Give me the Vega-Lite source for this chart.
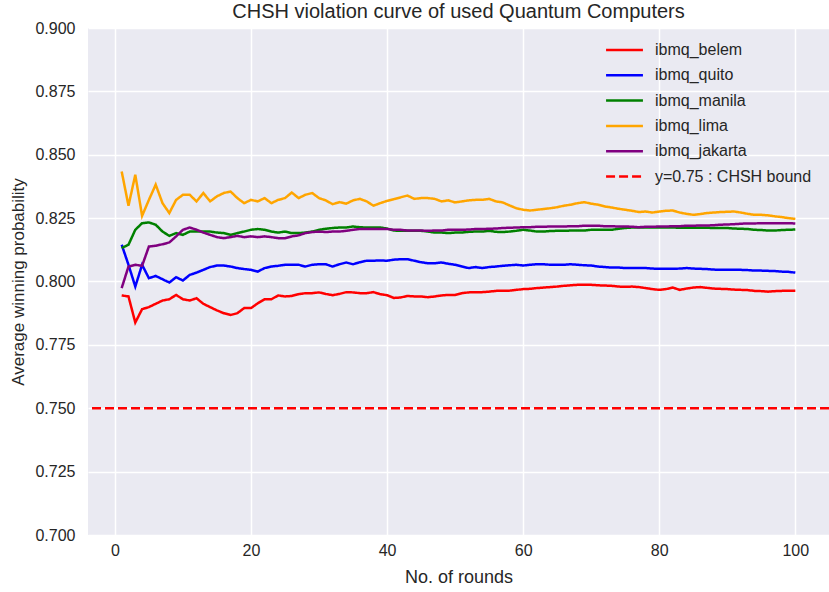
{
  "$schema": "https://vega.github.io/schema/vega-lite/v6.json",
  "width": 741,
  "height": 507,
  "autosize": {"type": "none"},
  "padding": {"left": 88, "top": 28, "right": 0, "bottom": 57},
  "background": "white",
  "title": {"text": "CHSH violation curve of used Quantum Computers", "fontSize": 20, "font": "Liberation Sans", "fontWeight": "normal", "color": "#262626", "frame": "group", "offset": -2},
  "datasets": {
    "runs": [
      {"round":1,"ibmq_belem":0.7945,"ibmq_quito":0.8145,"ibmq_manila":0.8132,"ibmq_lima":0.8434,"ibmq_jakarta":0.7974},
      {"round":2,"ibmq_belem":0.7941,"ibmq_quito":0.8066,"ibmq_manila":0.8145,"ibmq_lima":0.8299,"ibmq_jakarta":0.8059},
      {"round":3,"ibmq_belem":0.7838,"ibmq_quito":0.798,"ibmq_manila":0.8204,"ibmq_lima":0.8421,"ibmq_jakarta":0.8066},
      {"round":4,"ibmq_belem":0.7891,"ibmq_quito":0.8066,"ibmq_manila":0.823,"ibmq_lima":0.8259,"ibmq_jakarta":0.8062},
      {"round":5,"ibmq_belem":0.7899,"ibmq_quito":0.8013,"ibmq_manila":0.8233,"ibmq_lima":0.8322,"ibmq_jakarta":0.8138},
      {"round":6,"ibmq_belem":0.7912,"ibmq_quito":0.8022,"ibmq_manila":0.8224,"ibmq_lima":0.8382,"ibmq_jakarta":0.8141},
      {"round":7,"ibmq_belem":0.7925,"ibmq_quito":0.8009,"ibmq_manila":0.8197,"ibmq_lima":0.8309,"ibmq_jakarta":0.8147},
      {"round":8,"ibmq_belem":0.793,"ibmq_quito":0.7996,"ibmq_manila":0.818,"ibmq_lima":0.827,"ibmq_jakarta":0.8154},
      {"round":9,"ibmq_belem":0.7947,"ibmq_quito":0.8017,"ibmq_manila":0.8191,"ibmq_lima":0.8322,"ibmq_jakarta":0.8178},
      {"round":10,"ibmq_belem":0.793,"ibmq_quito":0.8004,"ibmq_manila":0.8184,"ibmq_lima":0.8342,"ibmq_jakarta":0.8204},
      {"round":11,"ibmq_belem":0.7925,"ibmq_quito":0.8026,"ibmq_manila":0.8197,"ibmq_lima":0.8342,"ibmq_jakarta":0.8213},
      {"round":12,"ibmq_belem":0.7934,"ibmq_quito":0.8035,"ibmq_manila":0.8197,"ibmq_lima":0.8316,"ibmq_jakarta":0.8204},
      {"round":13,"ibmq_belem":0.7912,"ibmq_quito":0.8046,"ibmq_manila":0.8197,"ibmq_lima":0.8349,"ibmq_jakarta":0.8193},
      {"round":14,"ibmq_belem":0.7899,"ibmq_quito":0.8057,"ibmq_manila":0.8197,"ibmq_lima":0.8316,"ibmq_jakarta":0.8184},
      {"round":15,"ibmq_belem":0.7886,"ibmq_quito":0.8063,"ibmq_manila":0.8193,"ibmq_lima":0.8336,"ibmq_jakarta":0.8175},
      {"round":16,"ibmq_belem":0.7875,"ibmq_quito":0.8063,"ibmq_manila":0.8191,"ibmq_lima":0.8349,"ibmq_jakarta":0.8171},
      {"round":17,"ibmq_belem":0.7868,"ibmq_quito":0.8059,"ibmq_manila":0.8184,"ibmq_lima":0.8355,"ibmq_jakarta":0.8175},
      {"round":18,"ibmq_belem":0.7875,"ibmq_quito":0.8053,"ibmq_manila":0.8191,"ibmq_lima":0.8329,"ibmq_jakarta":0.818},
      {"round":19,"ibmq_belem":0.7895,"ibmq_quito":0.8049,"ibmq_manila":0.8197,"ibmq_lima":0.8309,"ibmq_jakarta":0.8175},
      {"round":20,"ibmq_belem":0.7895,"ibmq_quito":0.8046,"ibmq_manila":0.8204,"ibmq_lima":0.8322,"ibmq_jakarta":0.8178},
      {"round":21,"ibmq_belem":0.7914,"ibmq_quito":0.8039,"ibmq_manila":0.8207,"ibmq_lima":0.8316,"ibmq_jakarta":0.8175},
      {"round":22,"ibmq_belem":0.793,"ibmq_quito":0.8053,"ibmq_manila":0.8204,"ibmq_lima":0.8329,"ibmq_jakarta":0.8178},
      {"round":23,"ibmq_belem":0.793,"ibmq_quito":0.8059,"ibmq_manila":0.8197,"ibmq_lima":0.8309,"ibmq_jakarta":0.8175},
      {"round":24,"ibmq_belem":0.7945,"ibmq_quito":0.8062,"ibmq_manila":0.8193,"ibmq_lima":0.8322,"ibmq_jakarta":0.8171},
      {"round":25,"ibmq_belem":0.7941,"ibmq_quito":0.8066,"ibmq_manila":0.8197,"ibmq_lima":0.8329,"ibmq_jakarta":0.8171},
      {"round":26,"ibmq_belem":0.7943,"ibmq_quito":0.8066,"ibmq_manila":0.8191,"ibmq_lima":0.8351,"ibmq_jakarta":0.8178},
      {"round":27,"ibmq_belem":0.795,"ibmq_quito":0.8066,"ibmq_manila":0.8191,"ibmq_lima":0.8329,"ibmq_jakarta":0.8182},
      {"round":28,"ibmq_belem":0.7954,"ibmq_quito":0.8059,"ibmq_manila":0.8193,"ibmq_lima":0.8342,"ibmq_jakarta":0.8191},
      {"round":29,"ibmq_belem":0.7954,"ibmq_quito":0.8066,"ibmq_manila":0.8197,"ibmq_lima":0.8349,"ibmq_jakarta":0.8195},
      {"round":30,"ibmq_belem":0.7957,"ibmq_quito":0.8068,"ibmq_manila":0.8204,"ibmq_lima":0.8329,"ibmq_jakarta":0.8197},
      {"round":31,"ibmq_belem":0.7951,"ibmq_quito":0.8068,"ibmq_manila":0.8208,"ibmq_lima":0.832,"ibmq_jakarta":0.8195},
      {"round":32,"ibmq_belem":0.7946,"ibmq_quito":0.8059,"ibmq_manila":0.8211,"ibmq_lima":0.8305,"ibmq_jakarta":0.8197},
      {"round":33,"ibmq_belem":0.7951,"ibmq_quito":0.8068,"ibmq_manila":0.8213,"ibmq_lima":0.8313,"ibmq_jakarta":0.8197},
      {"round":34,"ibmq_belem":0.7958,"ibmq_quito":0.8075,"ibmq_manila":0.8213,"ibmq_lima":0.8307,"ibmq_jakarta":0.82},
      {"round":35,"ibmq_belem":0.7957,"ibmq_quito":0.8068,"ibmq_manila":0.8217,"ibmq_lima":0.832,"ibmq_jakarta":0.8204},
      {"round":36,"ibmq_belem":0.7954,"ibmq_quito":0.8076,"ibmq_manila":0.8214,"ibmq_lima":0.8326,"ibmq_jakarta":0.8207},
      {"round":37,"ibmq_belem":0.7954,"ibmq_quito":0.8082,"ibmq_manila":0.8213,"ibmq_lima":0.8316,"ibmq_jakarta":0.8207},
      {"round":38,"ibmq_belem":0.7958,"ibmq_quito":0.8082,"ibmq_manila":0.8213,"ibmq_lima":0.8299,"ibmq_jakarta":0.8207},
      {"round":39,"ibmq_belem":0.795,"ibmq_quito":0.8083,"ibmq_manila":0.8213,"ibmq_lima":0.8309,"ibmq_jakarta":0.8207},
      {"round":40,"ibmq_belem":0.7946,"ibmq_quito":0.8082,"ibmq_manila":0.8209,"ibmq_lima":0.8318,"ibmq_jakarta":0.8207},
      {"round":41,"ibmq_belem":0.7935,"ibmq_quito":0.8086,"ibmq_manila":0.8201,"ibmq_lima":0.8325,"ibmq_jakarta":0.8204},
      {"round":42,"ibmq_belem":0.7937,"ibmq_quito":0.8088,"ibmq_manila":0.82,"ibmq_lima":0.8332,"ibmq_jakarta":0.8204},
      {"round":43,"ibmq_belem":0.7943,"ibmq_quito":0.8088,"ibmq_manila":0.82,"ibmq_lima":0.8339,"ibmq_jakarta":0.8201},
      {"round":44,"ibmq_belem":0.7941,"ibmq_quito":0.8082,"ibmq_manila":0.82,"ibmq_lima":0.8326,"ibmq_jakarta":0.8201},
      {"round":45,"ibmq_belem":0.7941,"ibmq_quito":0.8076,"ibmq_manila":0.82,"ibmq_lima":0.8329,"ibmq_jakarta":0.8201},
      {"round":46,"ibmq_belem":0.7938,"ibmq_quito":0.8072,"ibmq_manila":0.8197,"ibmq_lima":0.8329,"ibmq_jakarta":0.82},
      {"round":47,"ibmq_belem":0.7941,"ibmq_quito":0.8072,"ibmq_manila":0.8193,"ibmq_lima":0.8326,"ibmq_jakarta":0.8201},
      {"round":48,"ibmq_belem":0.7945,"ibmq_quito":0.8075,"ibmq_manila":0.8193,"ibmq_lima":0.8316,"ibmq_jakarta":0.8201},
      {"round":49,"ibmq_belem":0.7947,"ibmq_quito":0.807,"ibmq_manila":0.8191,"ibmq_lima":0.832,"ibmq_jakarta":0.8204},
      {"round":50,"ibmq_belem":0.7947,"ibmq_quito":0.8066,"ibmq_manila":0.8193,"ibmq_lima":0.8312,"ibmq_jakarta":0.8204},
      {"round":51,"ibmq_belem":0.7954,"ibmq_quito":0.8059,"ibmq_manila":0.8193,"ibmq_lima":0.8316,"ibmq_jakarta":0.8204},
      {"round":52,"ibmq_belem":0.7957,"ibmq_quito":0.8053,"ibmq_manila":0.8196,"ibmq_lima":0.832,"ibmq_jakarta":0.8205},
      {"round":53,"ibmq_belem":0.7958,"ibmq_quito":0.8057,"ibmq_manila":0.8197,"ibmq_lima":0.8322,"ibmq_jakarta":0.8207},
      {"round":54,"ibmq_belem":0.7958,"ibmq_quito":0.8053,"ibmq_manila":0.8197,"ibmq_lima":0.8322,"ibmq_jakarta":0.8207},
      {"round":55,"ibmq_belem":0.796,"ibmq_quito":0.8057,"ibmq_manila":0.82,"ibmq_lima":0.8326,"ibmq_jakarta":0.8208},
      {"round":56,"ibmq_belem":0.7963,"ibmq_quito":0.8059,"ibmq_manila":0.8196,"ibmq_lima":0.8316,"ibmq_jakarta":0.8209},
      {"round":57,"ibmq_belem":0.7964,"ibmq_quito":0.8062,"ibmq_manila":0.8195,"ibmq_lima":0.8312,"ibmq_jakarta":0.8211},
      {"round":58,"ibmq_belem":0.7964,"ibmq_quito":0.8064,"ibmq_manila":0.8197,"ibmq_lima":0.83,"ibmq_jakarta":0.8212},
      {"round":59,"ibmq_belem":0.7967,"ibmq_quito":0.8066,"ibmq_manila":0.82,"ibmq_lima":0.8289,"ibmq_jakarta":0.8213},
      {"round":60,"ibmq_belem":0.797,"ibmq_quito":0.8063,"ibmq_manila":0.8204,"ibmq_lima":0.8283,"ibmq_jakarta":0.8214},
      {"round":61,"ibmq_belem":0.7971,"ibmq_quito":0.8066,"ibmq_manila":0.8201,"ibmq_lima":0.828,"ibmq_jakarta":0.8214},
      {"round":62,"ibmq_belem":0.7974,"ibmq_quito":0.8068,"ibmq_manila":0.8197,"ibmq_lima":0.8283,"ibmq_jakarta":0.8216},
      {"round":63,"ibmq_belem":0.7976,"ibmq_quito":0.8068,"ibmq_manila":0.8197,"ibmq_lima":0.8286,"ibmq_jakarta":0.8216},
      {"round":64,"ibmq_belem":0.7978,"ibmq_quito":0.8066,"ibmq_manila":0.8199,"ibmq_lima":0.8289,"ibmq_jakarta":0.8217},
      {"round":65,"ibmq_belem":0.798,"ibmq_quito":0.8066,"ibmq_manila":0.82,"ibmq_lima":0.8293,"ibmq_jakarta":0.8217},
      {"round":66,"ibmq_belem":0.7983,"ibmq_quito":0.8066,"ibmq_manila":0.82,"ibmq_lima":0.8299,"ibmq_jakarta":0.8217},
      {"round":67,"ibmq_belem":0.7985,"ibmq_quito":0.8068,"ibmq_manila":0.8201,"ibmq_lima":0.8303,"ibmq_jakarta":0.8218},
      {"round":68,"ibmq_belem":0.7987,"ibmq_quito":0.8066,"ibmq_manila":0.8201,"ibmq_lima":0.8309,"ibmq_jakarta":0.8218},
      {"round":69,"ibmq_belem":0.7987,"ibmq_quito":0.8064,"ibmq_manila":0.8201,"ibmq_lima":0.8313,"ibmq_jakarta":0.822},
      {"round":70,"ibmq_belem":0.7987,"ibmq_quito":0.8063,"ibmq_manila":0.8204,"ibmq_lima":0.8307,"ibmq_jakarta":0.822},
      {"round":71,"ibmq_belem":0.7985,"ibmq_quito":0.8059,"ibmq_manila":0.8204,"ibmq_lima":0.8303,"ibmq_jakarta":0.822},
      {"round":72,"ibmq_belem":0.7984,"ibmq_quito":0.8057,"ibmq_manila":0.8204,"ibmq_lima":0.8296,"ibmq_jakarta":0.8218},
      {"round":73,"ibmq_belem":0.7983,"ibmq_quito":0.8055,"ibmq_manila":0.8204,"ibmq_lima":0.8292,"ibmq_jakarta":0.8218},
      {"round":74,"ibmq_belem":0.798,"ibmq_quito":0.8055,"ibmq_manila":0.8208,"ibmq_lima":0.8287,"ibmq_jakarta":0.8217},
      {"round":75,"ibmq_belem":0.7979,"ibmq_quito":0.8053,"ibmq_manila":0.8211,"ibmq_lima":0.8283,"ibmq_jakarta":0.8217},
      {"round":76,"ibmq_belem":0.798,"ibmq_quito":0.8053,"ibmq_manila":0.8213,"ibmq_lima":0.8279,"ibmq_jakarta":0.8216},
      {"round":77,"ibmq_belem":0.7978,"ibmq_quito":0.8053,"ibmq_manila":0.8213,"ibmq_lima":0.8274,"ibmq_jakarta":0.8214},
      {"round":78,"ibmq_belem":0.7974,"ibmq_quito":0.8053,"ibmq_manila":0.8213,"ibmq_lima":0.8276,"ibmq_jakarta":0.8216},
      {"round":79,"ibmq_belem":0.797,"ibmq_quito":0.8051,"ibmq_manila":0.8213,"ibmq_lima":0.8272,"ibmq_jakarta":0.8216},
      {"round":80,"ibmq_belem":0.7967,"ibmq_quito":0.805,"ibmq_manila":0.8213,"ibmq_lima":0.8276,"ibmq_jakarta":0.8217},
      {"round":81,"ibmq_belem":0.797,"ibmq_quito":0.805,"ibmq_manila":0.8213,"ibmq_lima":0.8279,"ibmq_jakarta":0.8217},
      {"round":82,"ibmq_belem":0.7976,"ibmq_quito":0.805,"ibmq_manila":0.8213,"ibmq_lima":0.828,"ibmq_jakarta":0.8218},
      {"round":83,"ibmq_belem":0.7967,"ibmq_quito":0.8051,"ibmq_manila":0.8212,"ibmq_lima":0.8272,"ibmq_jakarta":0.8218},
      {"round":84,"ibmq_belem":0.7972,"ibmq_quito":0.8053,"ibmq_manila":0.8212,"ibmq_lima":0.8267,"ibmq_jakarta":0.822},
      {"round":85,"ibmq_belem":0.7976,"ibmq_quito":0.8051,"ibmq_manila":0.8212,"ibmq_lima":0.8263,"ibmq_jakarta":0.822},
      {"round":86,"ibmq_belem":0.7978,"ibmq_quito":0.805,"ibmq_manila":0.8212,"ibmq_lima":0.8266,"ibmq_jakarta":0.8221},
      {"round":87,"ibmq_belem":0.7975,"ibmq_quito":0.8049,"ibmq_manila":0.8212,"ibmq_lima":0.827,"ibmq_jakarta":0.8221},
      {"round":88,"ibmq_belem":0.7972,"ibmq_quito":0.8047,"ibmq_manila":0.8211,"ibmq_lima":0.8272,"ibmq_jakarta":0.8222},
      {"round":89,"ibmq_belem":0.7971,"ibmq_quito":0.8046,"ibmq_manila":0.8211,"ibmq_lima":0.8274,"ibmq_jakarta":0.8224},
      {"round":90,"ibmq_belem":0.797,"ibmq_quito":0.8046,"ibmq_manila":0.8211,"ibmq_lima":0.8275,"ibmq_jakarta":0.8225},
      {"round":91,"ibmq_belem":0.7968,"ibmq_quito":0.8046,"ibmq_manila":0.8209,"ibmq_lima":0.8276,"ibmq_jakarta":0.8226},
      {"round":92,"ibmq_belem":0.7967,"ibmq_quito":0.8046,"ibmq_manila":0.8208,"ibmq_lima":0.8272,"ibmq_jakarta":0.8228},
      {"round":93,"ibmq_belem":0.7966,"ibmq_quito":0.8045,"ibmq_manila":0.8207,"ibmq_lima":0.8267,"ibmq_jakarta":0.8229},
      {"round":94,"ibmq_belem":0.7963,"ibmq_quito":0.8043,"ibmq_manila":0.8204,"ibmq_lima":0.8263,"ibmq_jakarta":0.8229},
      {"round":95,"ibmq_belem":0.7962,"ibmq_quito":0.8043,"ibmq_manila":0.8203,"ibmq_lima":0.8263,"ibmq_jakarta":0.823},
      {"round":96,"ibmq_belem":0.796,"ibmq_quito":0.8042,"ibmq_manila":0.8201,"ibmq_lima":0.8261,"ibmq_jakarta":0.823},
      {"round":97,"ibmq_belem":0.7962,"ibmq_quito":0.8041,"ibmq_manila":0.8201,"ibmq_lima":0.8257,"ibmq_jakarta":0.823},
      {"round":98,"ibmq_belem":0.7963,"ibmq_quito":0.8039,"ibmq_manila":0.8203,"ibmq_lima":0.8254,"ibmq_jakarta":0.823},
      {"round":99,"ibmq_belem":0.7964,"ibmq_quito":0.8038,"ibmq_manila":0.8204,"ibmq_lima":0.825,"ibmq_jakarta":0.823},
      {"round":100,"ibmq_belem":0.7964,"ibmq_quito":0.8035,"ibmq_manila":0.8205,"ibmq_lima":0.8247,"ibmq_jakarta":0.8229}
    ],
    "bound": [{"series": "y=0.75 : CHSH bound", "value": 0.75}]
  },
  "layer": [
    {
      "data": {"name": "runs"},
      "transform": [{"fold": ["ibmq_belem", "ibmq_quito", "ibmq_manila", "ibmq_lima", "ibmq_jakarta"], "as": ["series", "value"]}],
      "mark": {"type": "line", "strokeWidth": 2.5, "clip": true},
      "encoding": {
        "x": {"field": "round", "type": "quantitative", "title": "No. of rounds",
              "scale": {"domain": [-3.95, 104.95], "nice": false, "zero": false},
              "axis": {"values": [0, 20, 40, 60, 80, 100], "labelPadding": 7, "titlePadding": 10, "labelFlush": false, "titleFontSize": 18}},
        "y": {"field": "value", "type": "quantitative", "title": "Average winning probability",
              "scale": {"domain": [0.7, 0.9], "nice": false, "zero": false},
              "axis": {"values": [0.7, 0.725, 0.75, 0.775, 0.8, 0.825, 0.85, 0.875, 0.9], "format": ".3f", "labelPadding": 13, "titlePadding": 7, "labelFlush": false}},
        "color": {"field": "series", "type": "nominal", "title": null,
                  "scale": {"domain": ["ibmq_belem", "ibmq_quito", "ibmq_manila", "ibmq_lima", "ibmq_jakarta", "y=0.75 : CHSH bound"],
                            "range": ["#ff0000", "#0000ff", "#008000", "#ffa500", "#800080", "#ff0000"]}},
        "strokeDash": {"field": "series", "type": "nominal", "title": null,
                  "scale": {"domain": ["ibmq_belem", "ibmq_quito", "ibmq_manila", "ibmq_lima", "ibmq_jakarta", "y=0.75 : CHSH bound"],
                            "range": [[1, 0], [1, 0], [1, 0], [1, 0], [1, 0], [9, 4]]}}
      }
    },
    {
      "data": {"name": "bound"},
      "mark": {"type": "rule", "strokeWidth": 2.5},
      "encoding": {
        "y": {"field": "value", "type": "quantitative"},
        "color": {"field": "series", "type": "nominal", "title": null},
        "strokeDash": {"field": "series", "type": "nominal", "title": null}
      }
    }
  ],
  "config": {
    "view": {"fill": "#EAEAF2", "stroke": null},
    "font": "Liberation Sans",
    "axis": {
      "domain": false, "ticks": false, "grid": true, "gridColor": "#ffffff", "gridWidth": 1.5,
      "labelFont": "Liberation Sans", "labelFontSize": 16, "labelColor": "#262626",
      "titleFont": "Liberation Sans", "titleFontSize": 17, "titleColor": "#262626", "titleFontWeight": "normal"
    },
    "legend": {
      "orient": "none", "legendX": 525, "legendY": 10.5, "padding": 0,
      "labelFont": "Liberation Sans", "labelFontSize": 16, "labelColor": "#262626",
      "symbolSize": 420, "symbolStrokeWidth": 2.5, "symbolType": "M-1.8,0H1.8", "labelOffset": 19, "rowPadding": 5.3
    }
  }
}
